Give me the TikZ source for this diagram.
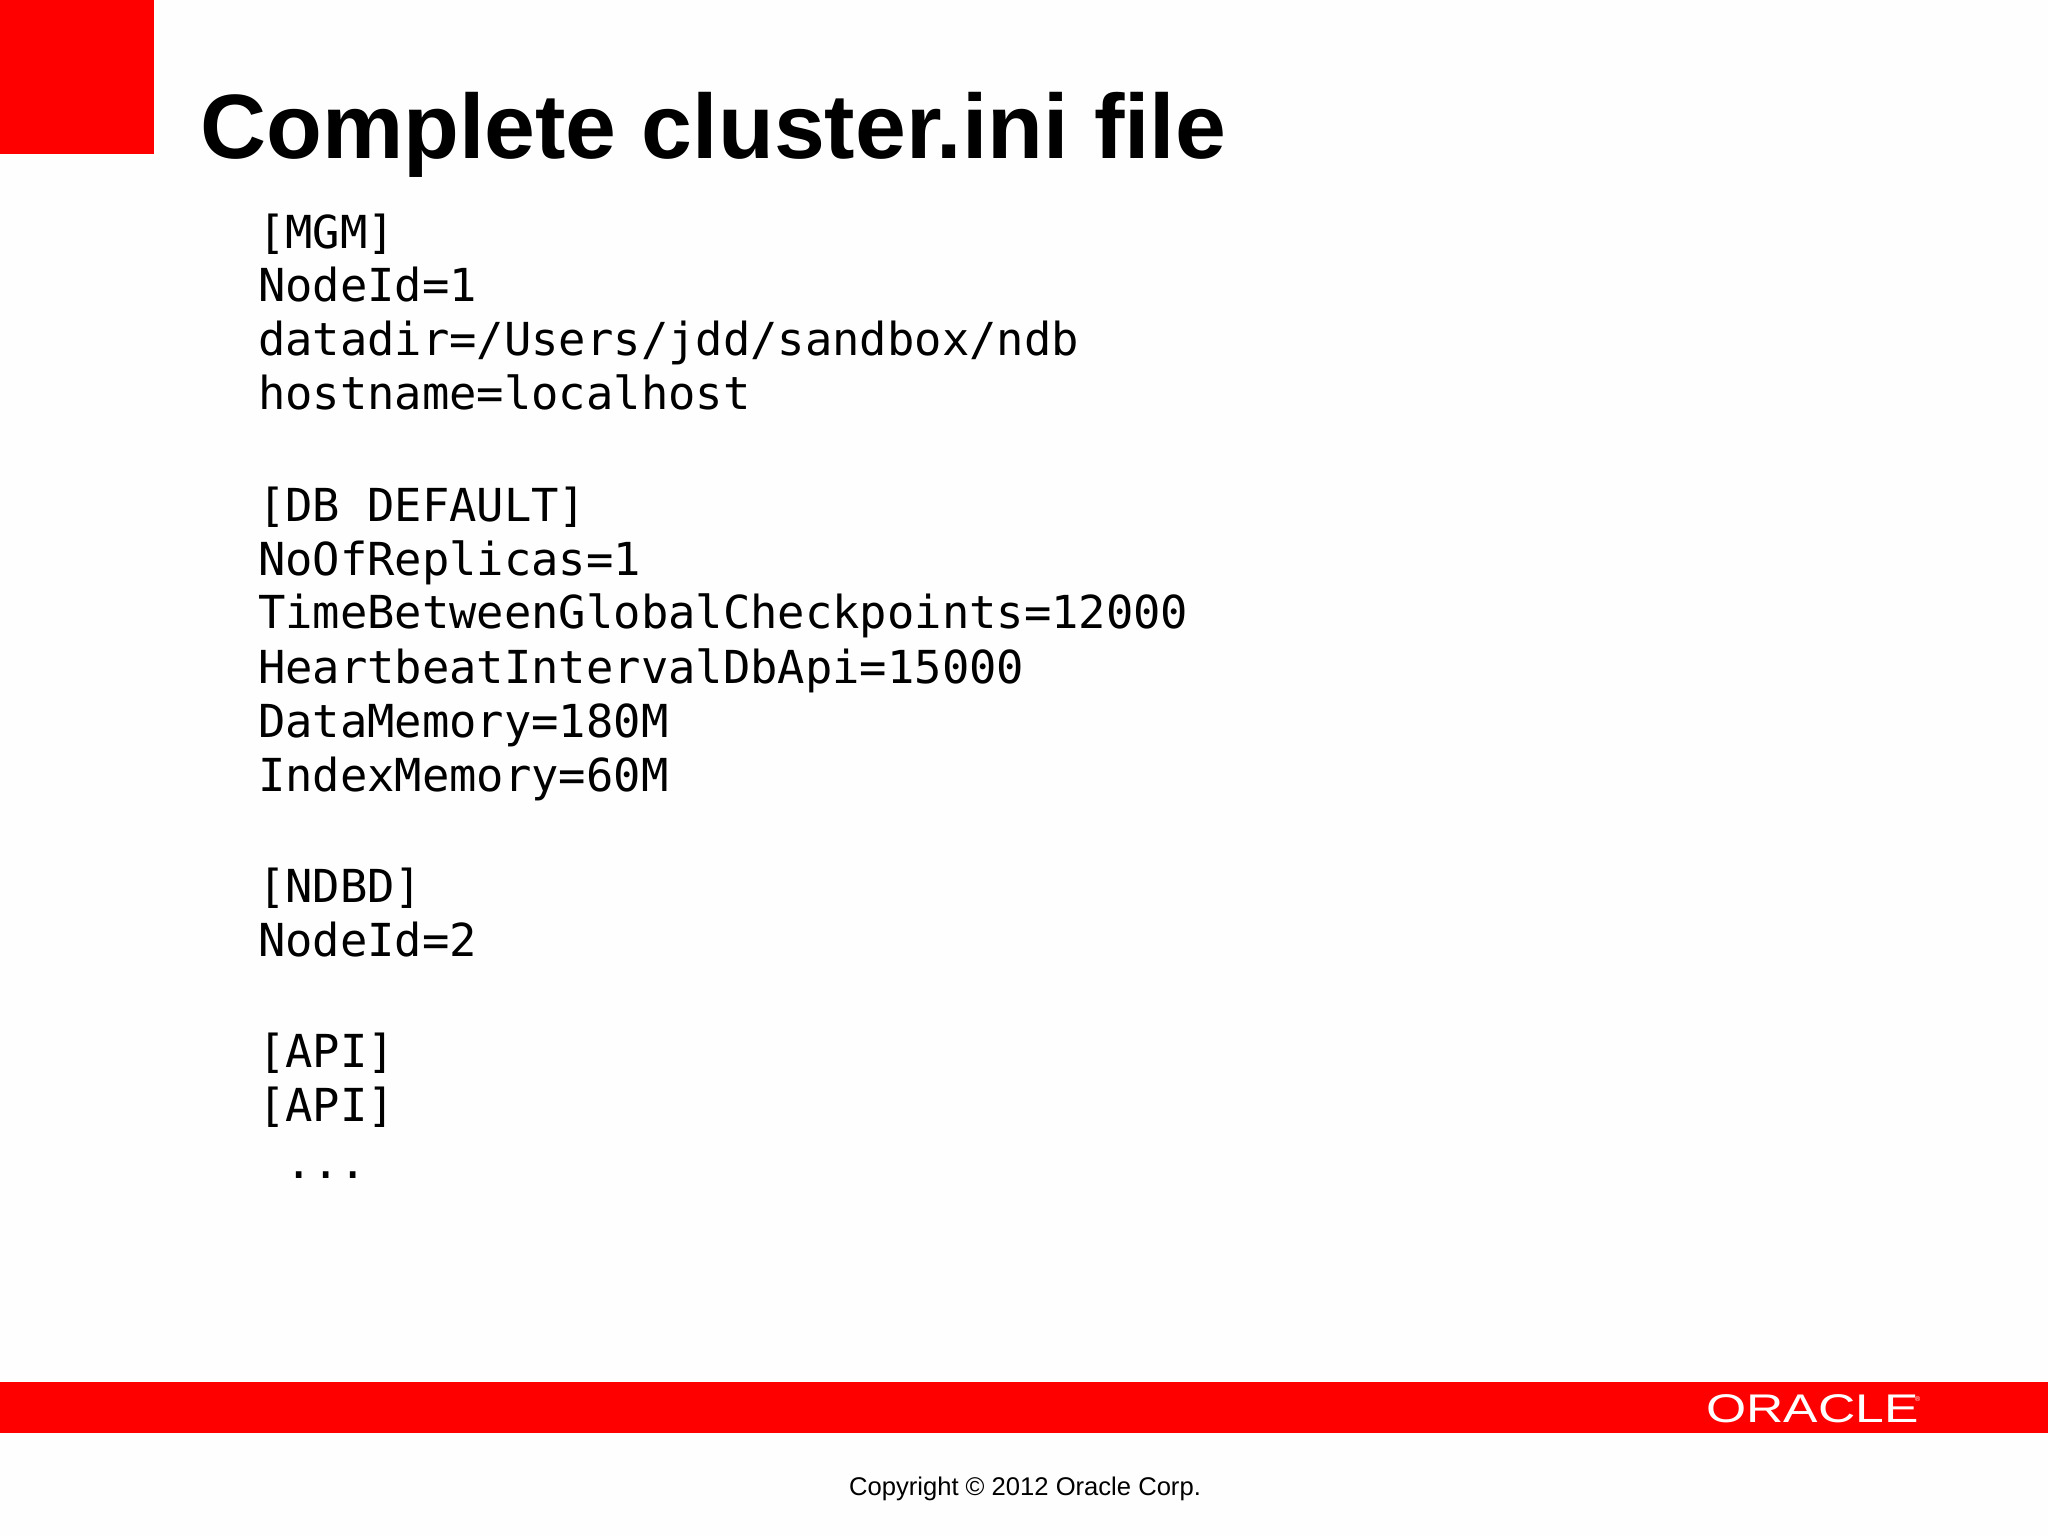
\documentclass[tikz,border=0pt]{standalone}
\usepackage{fontspec}
\setmainfont{Liberation Sans}
\newfontfamily\codefont{DejaVu Sans Mono}
\definecolor{orared}{RGB}{255,0,0}
\definecolor{pagebg}{RGB}{254,254,254}
\tikzset{
  codeline/.style={anchor=base west,inner sep=0pt,outer sep=0pt,font=\codefont\fontsize{45.45}{50}\selectfont,text=black},
  redblock/.style={fill=orared,draw=none},
}
\begin{document}
\begin{tikzpicture}[x=1pt,y=-1pt]
\path[use as bounding box,fill=pagebg] (0,0) rectangle (2048,1536);
\path[redblock] (0,0) rectangle (154,154);
\path[redblock] (0,1382) rectangle (2048,1433);
\node[anchor=base west,inner sep=0pt,font=\bfseries\fontsize{91.4}{100}\selectfont] (title) at (200,159) {Complete cluster.ini file};
\node[codeline] (l1) at (258,248) {[MGM]};
\node[codeline] (l2) at (258,301) {NodeId=1};
\node[codeline] (l3) at (258,355) {datadir=/Users/jdd/sandbox/ndb};
\node[codeline] (l4) at (258,409) {hostname=localhost};
\node[codeline] (l5) at (258,521) {[DB DEFAULT]};
\node[codeline] (l6) at (258,575) {NoOfReplicas=1};
\node[codeline] (l7) at (258,628) {TimeBetweenGlobalCheckpoints=12000};
\node[codeline] (l8) at (258,683) {HeartbeatIntervalDbApi=15000};
\node[codeline] (l9) at (258,737) {DataMemory=180M};
\node[codeline] (l10) at (258,791) {IndexMemory=60M};
\node[codeline] (l11) at (258,902) {[NDBD]};
\node[codeline] (l12) at (258,956) {NodeId=2};
\node[codeline] (l13) at (258,1067) {[API]};
\node[codeline] (l14) at (258,1121) {[API]};
\node[codeline] (l15) at (285,1178) {...};
\node[anchor=base west,inner sep=0pt,text=white,xscale=1.29,font=\fontsize{40}{44}\selectfont] (logo) at (1706,1422) {ORACLE};
\node[anchor=base west,inner sep=0pt,text=white,font=\fontsize{7}{8}\selectfont] (reg) at (1915,1401) {®};
\node[anchor=base,inner sep=0pt,font=\fontsize{25.6}{30}\selectfont] (copy) at (1025,1495) {Copyright © 2012 Oracle Corp.};
\end{tikzpicture}
\end{document}
